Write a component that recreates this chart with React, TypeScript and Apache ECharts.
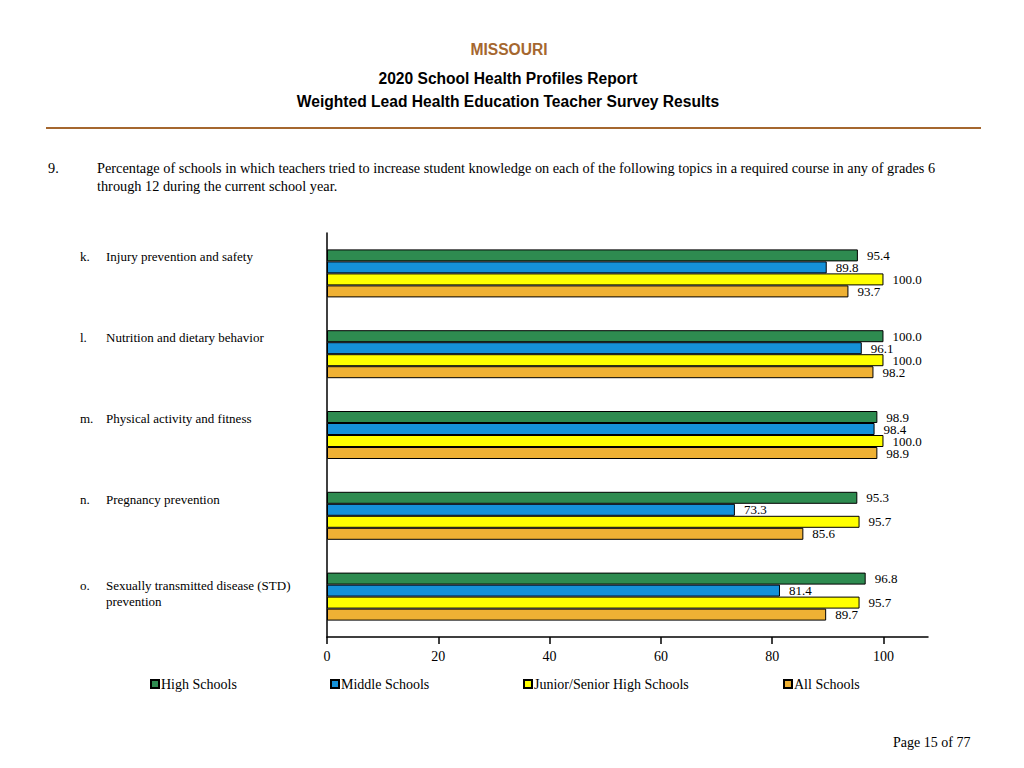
import React, { useEffect, useRef } from 'react';
import * as echarts from 'echarts';

const letters = ['k.', 'l.', 'm.', 'n.', 'o.'];
const topics = [
  'Injury prevention and safety',
  'Nutrition and dietary behavior',
  'Physical activity and fitness',
  'Pregnancy prevention',
  'Sexually transmitted disease (STD)\nprevention',
];
const seriesNames = ['High Schools', 'Middle Schools', 'Junior/Senior High Schools', 'All Schools'];
const highSchools = [95.4, 100.0, 98.9, 95.3, 96.8];
const middleSchools = [89.8, 96.1, 98.4, 73.3, 81.4];
const juniorSenior = [100.0, 100.0, 100.0, 95.7, 95.7];
const allSchools = [93.7, 98.2, 98.9, 85.6, 89.7];
const xTicks = [0, 20, 40, 60, 80, 100];
const seriesColors = ['#2e8b50', '#1591d8', '#ffff00', '#efb134'];
const legendLefts = [150, 330, 523, 783];

const stateName = 'MISSOURI';
const reportTitle = '2020 School Health Profiles Report';
const surveyTitle = 'Weighted Lead Health Education Teacher Survey Results';
const questionNumber = '9.';
const questionText =
  'Percentage of schools in which teachers tried to increase student knowledge on each of the following topics in a required course in any of grades 6\nthrough 12 during the current school year.';
const pageText = 'Page 15 of 77';

const SERIF = '"Liberation Serif", "Times New Roman", serif';
const SANS = '"Liberation Sans", Arial, sans-serif';
const BROWN = '#a5672f';

const labelRich = {
  a: { width: 26, fontFamily: SERIF, fontSize: 13, color: '#000', lineHeight: 16, align: 'left' },
  b: { fontFamily: SERIF, fontSize: 13, color: '#000', lineHeight: 16, align: 'left' },
};

export default function App() {
  const ref = useRef<HTMLDivElement>(null);
  useEffect(() => {
    if (!ref.current) return;
    const chart = echarts.init(ref.current, null, { renderer: 'svg' });
    const values = [highSchools, middleSchools, juniorSenior, allSchools];
    const headerStyle = (size: number, color: string) => ({
      fontFamily: SANS,
      fontSize: size,
      fontWeight: 'bold',
      fill: color,
      align: 'center',
      verticalAlign: 'middle',
    });
    const option: any = {
      animation: false,
      backgroundColor: '#ffffff',
      title: [
        { text: questionNumber, left: 48, top: 159, padding: 0, textStyle: { fontFamily: SERIF, fontSize: 14.3, fontWeight: 'normal', color: '#000', lineHeight: 18 } },
        { text: questionText, left: 97, top: 159, padding: 0, textStyle: { fontFamily: SERIF, fontSize: 14.3, fontWeight: 'normal', color: '#000', lineHeight: 18 } },
        { text: pageText, left: 893, top: 735, padding: 0, textStyle: { fontFamily: SERIF, fontSize: 14, fontWeight: 'normal', color: '#000' } },
      ],
      graphic: [
        { type: 'text', x: 509, y: 49, style: { text: stateName, ...headerStyle(15.6, BROWN) } },
        { type: 'text', x: 508, y: 78, style: { text: reportTitle, ...headerStyle(15.6, '#000') } },
        { type: 'text', x: 508, y: 101, style: { text: surveyTitle, ...headerStyle(15.6, '#000') } },
        { type: 'line', shape: { x1: 46, y1: 128, x2: 981, y2: 128 }, style: { stroke: BROWN, lineWidth: 2 } },
      ],
      legend: seriesNames.map((name, i) => ({
        data: [name],
        left: legendLefts[i],
        top: 677,
        padding: 0,
        itemWidth: 8,
        itemHeight: 8,
        itemGap: 0,
        icon: 'rect',
        selectedMode: false,
        textStyle: { fontFamily: SERIF, fontSize: 14, color: '#000', padding: [0, 0, 0, -3] },
      })),
      grid: { left: 327, top: 233, width: 601, height: 404, containLabel: false, outerBoundsMode: 'none' },
      xAxis: {
        type: 'value',
        min: 0,
        max: 108,
        axisLine: { show: true, lineStyle: { color: '#000', width: 1.5 } },
        axisTick: { show: true, customValues: xTicks, length: 7, lineStyle: { color: '#000', width: 1.5 } },
        axisLabel: { customValues: xTicks, margin: 12, fontFamily: SERIF, fontSize: 14, color: '#000' },
        splitLine: { show: false },
      },
      yAxis: {
        type: 'category',
        inverse: true,
        data: topics.map((t) =>
          t.includes('\n')
            ? {
                value: t,
                textStyle: {
                  align: 'left',
                  verticalAlign: 'middle',
                  padding: [0, 0, 6, 0],
                  lineHeight: 16,
                  fontFamily: SERIF,
                  fontSize: 13,
                  color: '#000',
                  rich: labelRich,
                },
              }
            : t
        ),
        axisLine: { show: true, lineStyle: { color: '#000', width: 1.5 } },
        axisTick: { show: false },
        axisLabel: {
          align: 'left',
          margin: 247,
          verticalAlign: 'middle',
          padding: [0, 0, 33, 0],
          lineHeight: 16,
          fontFamily: SERIF,
          fontSize: 13,
          color: '#000',
          formatter: (value: string, index: number) =>
            value
              .split('\n')
              .map((line, j) => `{a|${j === 0 ? letters[index] : ' '}}{b|${line}}`)
              .join('\n'),
          rich: labelRich,
        },
      },
      series: seriesNames.map((name, i) => ({
        name,
        type: 'bar',
        data: values[i],
        barWidth: 12,
        barGap: '0%',
        itemStyle: { color: seriesColors[i], borderColor: '#000', borderWidth: 1 },
        label: {
          show: true,
          position: 'right',
          distance: 9,
          formatter: (p: any) => Number(p.value).toFixed(1),
          fontFamily: SERIF,
          fontSize: 13,
          color: '#000',
        },
      })),
    };
    chart.setOption(option);
    return () => chart.dispose();
  }, []);
  return <div ref={ref} style={{ position: 'fixed', left: 0, top: 0, width: 1024, height: 768 }} />;
}
